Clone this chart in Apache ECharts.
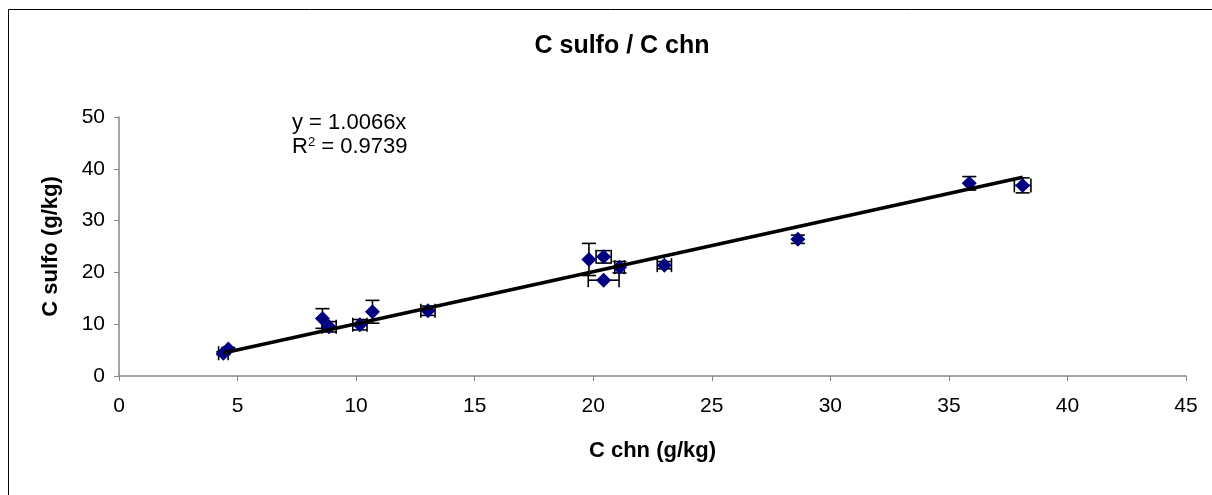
<!DOCTYPE html>
<html>
<head>
<meta charset="utf-8">
<script src="https://cdn.jsdelivr.net/npm/echarts@6/dist/echarts.min.js"></script>
<style>
  html, body { margin: 0; padding: 0; background: #fff; }
  #main { width: 1212px; height: 495px; }
</style>
</head>
<body>
<div id="main"></div>
<script>
// data
var xVals = [4.40, 4.61, 8.58, 8.86, 10.16, 10.69, 13.03, 19.82, 20.44, 20.44, 21.11, 23.00, 28.63, 35.86, 38.11];
var yVals = [4.4, 5.2, 11.1, 9.5, 9.9, 12.4, 12.6, 22.5, 23.0, 18.5, 21.0, 21.4, 26.4, 37.2, 36.8];
var xErr  = [0.2, 0, 0, 0.3, 0.3, 0, 0.3, 0, 0.32, 0.65, 0.2, 0.3, 0, 0, 0.35];
var yErr  = [0.3, 0.3, 1.9, 1.0, 1.0, 2.2, 0.9, 3.1, 1.2, 0, 1.1, 0.7, 0.8, 1.3, 1.45];
var slope = 1.0066;
var r2 = 0.9739;

var FONT = 'Liberation Sans, Arial, sans-serif';

var points = xVals.map(function (x, i) { return [x, yVals[i]]; });
var errData = xVals.map(function (x, i) { return [x, yVals[i], xErr[i], yErr[i]]; });
var xMin = Math.min.apply(null, xVals);
var xMax = Math.max.apply(null, xVals);
var trend = [[xMin, slope * xMin], [xMax, slope * xMax]];

var myChart = echarts.init(document.getElementById('main'));

function seg(x1, y1, x2, y2) {
    return {
        type: 'line',
        shape: { x1: x1, y1: y1, x2: x2, y2: y2 },
        style: { stroke: '#000', lineWidth: 1.6 }
    };
}

var option = {
    backgroundColor: '#fff',
    animation: false,
    title: {
        text: 'C sulfo / C chn',
        left: 617,
        top: 29,
        textAlign: 'center',
        textStyle: { fontFamily: FONT, fontSize: 25, fontWeight: 'bold', color: '#000' }
    },
    grid: { left: 119, right: 26, top: 117, bottom: 119 },
    xAxis: {
        type: 'value',
        min: 0, max: 45, interval: 5,
        name: 'C chn (g/kg)',
        nameLocation: 'middle',
        nameGap: 64,
        nameTextStyle: { fontFamily: FONT, fontSize: 22, fontWeight: 'bold', color: '#000' },
        axisLine: { onZero: false, lineStyle: { color: '#868686', width: 1.5 } },
        axisTick: { length: 5, lineStyle: { color: '#868686' } },
        axisLabel: { fontFamily: FONT, fontSize: 21, color: '#000', margin: 20 },
        splitLine: { show: false }
    },
    yAxis: {
        type: 'value',
        min: 0, max: 50, interval: 10,
        name: 'C sulfo (g/kg)',
        nameLocation: 'middle',
        nameGap: 57,
        nameTextStyle: { fontFamily: FONT, fontSize: 22, fontWeight: 'bold', color: '#000' },
        axisLine: { show: true, lineStyle: { color: '#868686', width: 1.5 } },
        axisTick: { show: true, length: 5, lineStyle: { color: '#868686' } },
        axisLabel: { fontFamily: FONT, fontSize: 21, color: '#000', margin: 14 },
        splitLine: { show: false }
    },
    graphic: [
        {
            type: 'rect',
            shape: { x: 8.5, y: 9.5, width: 1400, height: 700 },
            style: { fill: 'none', stroke: '#000', lineWidth: 1 },
            silent: true
        },
        {
            type: 'text',
            left: 292,
            top: 112,
            style: {
                text: 'y = ' + slope.toFixed(4) + 'x',
                font: '22px ' + FONT,
                fill: '#000'
            }
        },
        {
            type: 'text',
            left: 292,
            top: 136,
            style: {
                text: '{a|R}{s|2}{a| = ' + r2.toFixed(4) + '}',
                rich: {
                    a: { fontFamily: FONT, fontSize: 22, fill: '#000', color: '#000' },
                    s: { fontFamily: FONT, fontSize: 13, fill: '#000', color: '#000', verticalAlign: 'top', padding: [0, 0, 8, 0] }
                }
            }
        }
    ],
    series: [
        {
            // error bars (x and y), caps 7px
            type: 'custom',
            data: errData,
            z: 1,
            renderItem: function (params, api) {
                var x = api.value(0), y = api.value(1), xe = api.value(2), ye = api.value(3);
                var c = 7;
                var kids = [];
                if (xe > 0) {
                    var l = api.coord([x - xe, y]);
                    var r = api.coord([x + xe, y]);
                    kids.push(seg(l[0], l[1], r[0], r[1]));
                    kids.push(seg(l[0], l[1] - c, l[0], l[1] + c));
                    kids.push(seg(r[0], r[1] - c, r[0], r[1] + c));
                }
                if (ye > 0) {
                    var t = api.coord([x, y + ye]);
                    var b = api.coord([x, y - ye]);
                    kids.push(seg(t[0], t[1], b[0], b[1]));
                    kids.push(seg(t[0] - c, t[1], t[0] + c, t[1]));
                    kids.push(seg(b[0] - c, b[1], b[0] + c, b[1]));
                }
                return { type: 'group', children: kids };
            }
        },
        {
            name: 'C sulfo',
            type: 'scatter',
            data: points,
            symbol: 'diamond',
            symbolSize: 15,
            itemStyle: { color: '#000080', opacity: 1 },
            z: 2
        },
        {
            name: 'trend',
            type: 'line',
            data: trend,
            symbol: 'none',
            lineStyle: { color: '#000', width: 3.5 },
            z: 3
        }
    ]
};

myChart.setOption(option);
</script>
</body>
</html>
